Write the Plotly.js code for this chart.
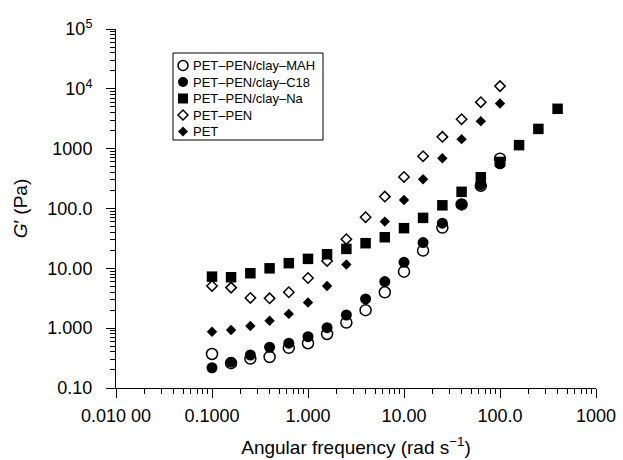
<!DOCTYPE html>
<html>
<head>
<meta charset="utf-8">
<script src="https://cdn.plot.ly/plotly-3.0.1.min.js"></script>
<style>html,body{margin:0;padding:0;background:#fff;}#chart{width:623px;height:460px;}</style>
</head>
<body>
<div id="chart"></div>
<script>
// Angular frequency (rad/s)
var freq = [0.1, 0.158, 0.251, 0.398, 0.631, 1.0, 1.58, 2.51, 3.98, 6.31, 10, 15.8, 25.1, 39.8, 63.1, 100];
var freqNa = [0.1, 0.158, 0.251, 0.398, 0.631, 1.0, 1.58, 2.51, 3.98, 6.31, 10, 15.8, 25.1, 39.8, 63.1, 100, 158, 251, 398];

// G' (Pa)
var gMAH = [0.37, 0.26, 0.31, 0.33, 0.47, 0.56, 0.80, 1.24, 2.0, 3.98, 8.8, 19.8, 48, 117, 240, 680];
var gC18 = [0.218, 0.27, 0.356, 0.48, 0.56, 0.72, 1.02, 1.66, 3.08, 6.0, 12.6, 26.9, 56.8, 118, 250, 557];
var gNa = [7.26, 7.1, 8.28, 10.0, 12.2, 14.4, 17.2, 21.1, 26.3, 33.1, 46.9, 69.7, 113, 190, 333, 600, 1146, 2140, 4640];
var gPETPEN = [5.08, 4.76, 3.2, 3.15, 3.98, 6.9, 13.3, 30.7, 71.6, 158, 337, 749, 1575, 3110, 5990, 11100];
var gPET = [0.87, 0.93, 1.09, 1.33, 1.73, 2.69, 5.08, 11.6, 26.6, 60.4, 139, 309, 693, 1442, 2885, 5680];

var seriesNames = ["PET\u2013PEN/clay\u2013MAH", "PET\u2013PEN/clay\u2013C18", "PET\u2013PEN/clay\u2013Na", "PET\u2013PEN", "PET"];

var xTickVals = [0.01, 0.1, 1, 10, 100, 1000];
var xTickText = ["0.010 00", "0.1000", "1.000", "10.00", "100.0", "1000"];
var yTickVals = [0.1, 1, 10, 100, 1000, 10000, 100000];
var yTickText = ["0.10", "1.000", "10.00", "100.0", "1000", "10<sup>4</sup>", "10<sup>5</sup>"];

function minorVals(lo, hi) {
  var v = [];
  for (var e = lo; e < hi; e++) {
    for (var d = 2; d <= 9; d++) v.push(d * Math.pow(10, e));
  }
  return v;
}

// plot area in pixels (for placing the hand-drawn legend)
var PL = 116, PR = 596, PT = 29, PB = 388;
function px(x) { return (x - PL) / (PR - PL); }
function py(y) { return (PB - y) / (PB - PT); }

var markerStyles = [
  {symbol: 'circle', size: 11, color: '#ffffff', line: {color: '#000', width: 1.5}},
  {symbol: 'circle', size: 11, color: '#000', line: {width: 0}},
  {symbol: 'square', size: 10.5, color: '#000', line: {width: 0}},
  {symbol: 'diamond', size: 8, color: '#ffffff', line: {color: '#000', width: 1.5}},
  {symbol: 'diamond', size: 8, color: '#000', line: {width: 0}}
];

var traces = [
  {x: freq, y: gPETPEN, name: seriesNames[3], mode: 'markers', type: 'scatter', marker: markerStyles[3]},
  {x: freq, y: gPET, name: seriesNames[4], mode: 'markers', type: 'scatter', marker: markerStyles[4]},
  {x: freq, y: gMAH, name: seriesNames[0], mode: 'markers', type: 'scatter', marker: markerStyles[0]},
  {x: freq, y: gC18, name: seriesNames[1], mode: 'markers', type: 'scatter', marker: markerStyles[1]},
  {x: freqNa, y: gNa, name: seriesNames[2], mode: 'markers', type: 'scatter', marker: markerStyles[2]}
];

var fontFam = '"Liberation Sans", Arial, Helvetica, sans-serif';

// legend drawn with shapes + annotations
var shapes = [{
  type: 'rect', xref: 'paper', yref: 'paper',
  x0: px(173), x1: px(323), y0: py(140), y1: py(53),
  line: {color: '#000', width: 1}, fillcolor: '#fff', layer: 'above'
}];
var annotations = [];
var rowY = [65.5, 82, 98.5, 115, 131.5];
var mx = 183, r = 5;
for (var i = 0; i < seriesNames.length; i++) {
  var ms = markerStyles[i];
  var base = {xref: 'paper', yref: 'paper', xsizemode: 'pixel', ysizemode: 'pixel',
              xanchor: px(mx), yanchor: py(rowY[i]), layer: 'above',
              fillcolor: ms.color, line: {color: '#000', width: ms.line.width || 0.01}};
  var s;
  if (ms.symbol === 'circle') {
    s = Object.assign({type: 'circle', x0: -r, x1: r, y0: -r, y1: r}, base);
  } else if (ms.symbol === 'square') {
    s = Object.assign({type: 'rect', x0: -r, x1: r, y0: -r, y1: r}, base);
  } else {
    s = Object.assign({type: 'path', path: 'M0,-5L5,0L0,5L-5,0Z'}, base);
  }
  shapes.push(s);
  annotations.push({
    xref: 'paper', yref: 'paper', x: px(191), y: py(rowY[i]),
    xanchor: 'left', yanchor: 'middle', showarrow: false,
    text: seriesNames[i], font: {family: fontFam, size: 13, color: '#000'}
  });
}

var layout = {
  width: 623, height: 460,
  margin: {l: PL, r: 623 - PR, t: PT, b: 460 - PB},
  paper_bgcolor: '#fff', plot_bgcolor: '#fff',
  font: {family: fontFam, color: '#000', size: 18},
  showlegend: false,
  shapes: shapes,
  annotations: annotations,
  xaxis: {
    type: 'log', range: [-2, 3],
    showgrid: false, zeroline: false,
    showline: true, linecolor: '#000', linewidth: 1,
    ticks: 'outside', ticklen: 9, tickwidth: 1, tickcolor: '#000',
    tickmode: 'array', tickvals: xTickVals, ticktext: xTickText,
    tickfont: {family: fontFam, size: 18, color: '#000'},
    ticklabelstandoff: 2,
    minor: {tickmode: 'array', tickvals: minorVals(-2, 3), ticks: 'outside', ticklen: 5, tickwidth: 1, tickcolor: '#000', showgrid: false},
    title: {text: 'Angular frequency (rad s<sup>\u22121</sup>)', font: {family: fontFam, size: 19, color: '#000'}, standoff: 16}
  },
  yaxis: {
    type: 'log', range: [-1, 5],
    showgrid: false, zeroline: false,
    showline: true, linecolor: '#000', linewidth: 1,
    ticks: 'outside', ticklen: 9, tickwidth: 1, tickcolor: '#000',
    tickmode: 'array', tickvals: yTickVals, ticktext: yTickText,
    tickfont: {family: fontFam, size: 18, color: '#000'},
    ticklabelstandoff: 10,
    minor: {tickmode: 'array', tickvals: minorVals(-1, 5), ticks: 'outside', ticklen: 5, tickwidth: 1, tickcolor: '#000', showgrid: false},
    title: {text: '<i>G</i>\u2032 (Pa)', font: {family: fontFam, size: 19, color: '#000'}, standoff: 14}
  }
};

Plotly.newPlot('chart', traces, layout, {displayModeBar: false, staticPlot: true});
</script>
</body>
</html>
